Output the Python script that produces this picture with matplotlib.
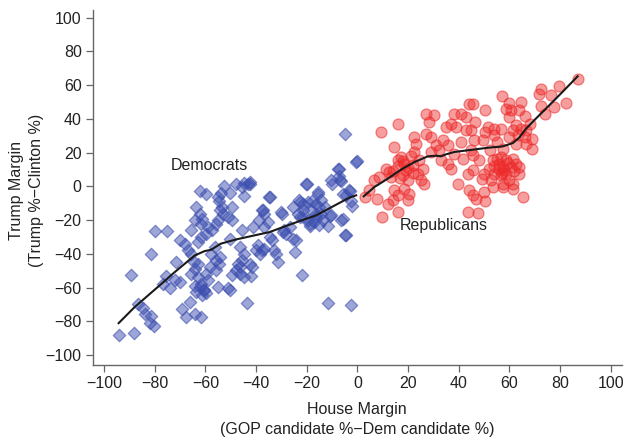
import matplotlib
matplotlib.use("Agg")
import matplotlib.pyplot as plt

# House margin (x) and Trump margin (y) by district, Democratic-held seats
dem_house = [-94.3, -88.2, -89.5, -80.1, -75.1, -81.7, -86.7, -84.7, -84.0, -81.4,
             -82.0, -80.4, -71.5, -75.5, -76.8, -74.2, -72.2, -70.2, -69.3, -67.6,
             -66.3, -64.3, -61.9, -70.2, -68.2, -66.9, -64.3, -65.6, -63.0, -61.7,
             -60.4, -64.3, -63.6, -62.3, -64.3, -65.6, -61.7, -59.7, -61.7, -63.0,
             -62.2, -59.8, -61.4, -59.1, -57.5, -55.9, -55.1, -65.7, -64.6, -63.0,
             -62.2, -60.6, -59.8, -61.4, -63.8, -59.1, -59.8, -58.3, -57.8, -55.1,
             -54.6, -54.0, -53.5, -53.0, -54.3, -56.2, -55.9, -54.6, -54.3, -55.1,
             -55.9, -52.8, -50.4, -51.2, -49.6, -49.6, -50.4, -50.4, -51.2, -49.6,
             -48.0, -47.2, -46.5, -45.7, -46.5, -44.9, -48.0, -45.7, -44.6, -43.3,
             -42.5, -44.9, -45.7, -46.5, -44.6, -43.6, -42.0, -41.7, -42.5, -40.2,
             -39.4, -38.6, -37.8, -37.0, -37.8, -37.0, -37.0, -35.4, -34.6, -33.9,
             -33.1, -32.3, -31.5, -29.9, -29.1, -28.3, -24.4, -24.7, -22.0, -23.6,
             -22.8, -21.3, -20.0, -19.7, -18.9, -22.8, -21.3, -18.1, -16.5, -15.7,
             -15.0, -14.2, -13.4, -16.5, -17.3, -12.6, -11.8, -11.0, -10.2, -11.8,
             -7.1, -7.4, -6.3, -6.3, -5.5, -4.7, -4.7, -3.1, -2.4, -2.4,
             -0.3, -0.6, -2.0, -7.8, -10.4, -6.8, -20.2, -15.6, -3.4, -4.5,
             -35.0, -22.9, -19.6, -14.3, -25.5, -30.1, -10.4, -5.8, -18.3, -16.3,
             -21.6, -18.9, -15.0, -26.8, -29.5, -4.5, -25.5, -37.4, -38.7, -41.2,
             -34.7, -42.6]
dem_trump = [-88.4, -87.0, -52.8, -26.5, -26.5, -39.9, -70.0, -72.0, -75.5, -76.6,
             -81.1, -83.0, -44.9, -53.4, -57.8, -60.1, -55.8, -56.8, -72.6, -77.6,
             -68.7, -75.5, -77.6, -32.0, -34.0, -38.0, -48.8, -51.8, -53.8, -57.7,
             -61.7, -58.8, -12.3, -16.2, -20.2, -26.1, -22.2, -28.1, -30.1, -33.1,
             -2.6, -4.5, -19.3, -24.2, -26.1, -22.2, -20.2, -39.9, -44.8, -45.8,
             -59.5, -61.5, -63.5, -64.4, -62.5, -55.6, -51.7, -47.7, -39.9, -6.5,
             -8.4, -4.1, -12.4, -16.3, -14.3, -36.0, -43.8, -45.8, -41.8, -59.5,
             -49.7, 0.4, -4.1, -18.3, -12.4, -20.2, -31.0, -61.5, -60.5, -52.7,
             -49.7, -45.8, -47.7, -43.8, -51.7, -53.6, 1.4, -0.6, 1.8, 1.4,
             1.4, -5.5, -26.1, -36.0, -39.9, -69.4, -53.2, -47.7, -45.8, -37.9,
             -35.0, -39.9, -37.9, -36.9, -14.3, -16.3, -24.2, -21.2, -6.5, -32.0,
             -37.9, -39.9, -44.8, -16.3, -26.1, -28.1, -32.0, -38.9, -52.7, -16.3,
             -18.3, -14.3, 1.4, -20.2, -23.2, -9.4, -10.4, -8.4, -10.4, -4.5,
             -12.4, -16.3, -20.2, -18.3, -21.2, -12.4, -23.2, -17.3, 1.4, -69.4,
             10.2, 6.3, 3.3, -20.2, -4.5, 30.8, -29.1, -2.6, -8.4, -70.3,
             15.1, 14.5, -11.4, 10.5, 3.6, 4.0, 1.2, -3.4, -2.4, -5.3,
             -6.3, -8.3, -9.3, -8.3, -12.3, -15.3, -17.2, -19.2, -14.2, -16.2,
             -18.2, -22.1, -23.1, -24.2, -27.1, -29.1, -31.0, -14.2, -20.2, -24.2,
             -30.1, 2.6]

# Republican-held seats
rep_house = [2.9, 4.7, 6.7, 8.7, 7.8, 9.9, 9.3, 15.9, 14.6, 11.3,
             12.6, 13.3, 15.9, 17.2, 18.5, 19.2, 17.9, 19.9, 18.5, 20.5,
             15.9, 14.6, 13.9, 12.0, 15.9, 19.9, 22.5, 23.2, 22.5, 21.8,
             24.5, 25.8, 25.1, 26.4, 23.8, 27.1, 30.4, 28.4, 27.1, 29.1,
             31.0, 29.1, 32.3, 37.0, 39.6, 44.2, 43.6, 38.3, 40.9, 42.9,
             44.2, 34.9, 37.0, 38.9, 42.9, 40.9, 33.7, 35.6, 38.3, 33.0,
             35.6, 41.6, 45.6, 45.6, 43.6,
             87.3, 79.5, 72.5, 71.8, 76.4, 82.3, 77.7, 72.5, 74.2, 57.3,
             64.6, 60.0, 60.7, 58.7, 63.9, 45.8, 50.5, 46.5, 44.9, 59.8,
             66.3, 68.2, 62.6, 64.6, 66.6, 61.4, 63.3, 60.0, 66.3, 68.8,
             56.6, 54.0, 51.5, 53.8, 50.5, 49.8, 55.1, 66.6, 68.8, 62.6,
             57.4, 52.5, 44.9, 46.2, 48.1, 53.4, 56.6, 58.7, 61.4, 62.6,
             60.7, 57.4, 55.8, 54.0, 56.6, 58.7, 63.9, 63.9, 52.1, 50.1,
             49.4, 52.7, 57.4, 61.4, 53.4, 57.4, 61.4, 65.3, 50.1, 46.8,
             45.5, 50.5, 47.8,
             56.0, 58.0, 59.5, 55.0, 57.0, 60.0, 54.0, 62.0, 16.0, 18.0,
             20.0, 22.0, 17.0, 21.0, 14.0]
rep_trump = [-6.3, -2.4, 3.6, 5.5, -7.3, -18.2, 32.2, 37.2, 23.3, 10.5,
             8.5, 5.5, 15.4, 17.4, 13.5, 9.5, 6.5, 3.6, -1.4, -4.3,
             -5.3, -2.4, -8.3, -10.3, -15.3, -8.3, 29.3, 25.3, 20.4, 12.5,
             15.4, 10.5, 3.6, 1.6, 7.5, 43.1, 42.1, 38.2, 31.3, 29.3,
             24.3, 20.4, 21.4, 10.5, 1.6, -2.4, -15.3, 43.1, 43.1, 41.1,
             49.1, 35.2, 37.2, 35.2, 33.2, 26.3, 27.3, 24.3, 19.4, 15.4,
             13.5, 16.4, 18.4, 9.5, 7.5,
             63.9, 59.3, 58.0, 55.0, 54.0, 49.4, 47.1, 47.5, 42.7, 53.4,
             50.0, 49.4, 45.1, 46.1, 45.1, 49.1, 45.1, 38.2, 33.2, 41.1,
             41.5, 37.2, 36.2, 34.2, 33.2, 33.2, 30.3, 29.3, 29.3, 28.3,
             34.2, 34.2, 35.2, 30.3, 32.2, 27.3, 26.3, 25.3, 22.4, 25.3,
             22.4, 21.4, 21.4, 27.3, 15.4, 15.4, 17.4, 15.4, 16.4, 13.5,
             11.5, 11.5, 10.5, 7.5, 6.5, 7.5, 7.5, 11.5, 10.5, 7.5,
             4.6, 3.6, 1.6, 1.6, -0.4, -0.4, -1.4, -6.3, -3.4, -7.3,
             -5.3, -8.7, -15.8,
             13.0, 10.0, 14.0, 16.0, 8.0, 4.0, 12.0, 9.0, 12.0, 15.0,
             11.0, 8.0, 5.0, 18.0, 9.0]

# smoothed fit within each party
dem_fit_x = [-94.3, -88.0, -82.7, -77.4, -72.2, -68.2, -64.3, -60.4, -57.8, -54.0,
             -48.0, -42.6, -34.7, -29.5, -22.9, -16.3, -9.7, -3.2, -0.5]
dem_fit_y = [-81.1, -71.6, -64.7, -57.8, -50.9, -45.9, -41.0, -38.4, -37.6, -34.0,
             -31.5, -29.7, -27.1, -24.2, -20.6, -17.2, -11.9, -6.7, -5.3]
rep_fit_x = [2.5, 6.7, 12.0, 17.2, 22.5, 27.8, 31.0, 33.0, 35.0, 38.3,
             43.6, 52.1, 57.4, 61.4, 63.9, 66.6, 70.5, 75.8, 81.0, 87.0]
rep_fit_y = [-5.9, -0.4, 4.6, 9.9, 14.4, 17.8, 18.2, 17.8, 19.0, 20.4,
             21.4, 23.0, 23.7, 25.7, 28.9, 34.2, 40.2, 48.1, 56.0, 65.3]

xticks = list(range(-100, 101, 20))
yticks = list(range(-100, 101, 20))

plt.rcParams["font.family"] = ["Liberation Sans", "DejaVu Sans"]

fig = plt.figure(figsize=(6.27, 4.41), dpi=100)
ax = fig.add_axes([0.148, 0.172, 0.844, 0.805])

blue = (0.24, 0.31, 0.69)
red = (0.93, 0.16, 0.16)
ax.scatter(dem_house, dem_trump, marker="D", s=40,
           facecolor=blue + (0.5,), edgecolor=blue + (0.6,), linewidths=0.9, zorder=2)
ax.scatter(rep_house, rep_trump, marker="o", s=62,
           facecolor=red + (0.45,), edgecolor=red + (0.55,), linewidths=0.9, zorder=2)

ax.plot(dem_fit_x, dem_fit_y, color="#1a1a1a", lw=1.5, zorder=3)
ax.plot(rep_fit_x, rep_fit_y, color="#1a1a1a", lw=1.5, zorder=3)

ax.text(-58.3, 12.2, "Democrats", ha="center", va="center", fontsize=11.5, color="#222222")
ax.text(34.2, -23.4, "Republicans", ha="center", va="center", fontsize=11.5, color="#222222")

ax.set_xlim(-104.5, 104.5)
ax.set_ylim(-106, 104.5)
ax.set_xticks(xticks)
ax.set_yticks(yticks)
for s in ["top", "right"]:
    ax.spines[s].set_visible(False)
for s in ["left", "bottom"]:
    ax.spines[s].set_color("#666666")
    ax.spines[s].set_linewidth(1.0)
ax.tick_params(direction="out", length=5, width=0.9, color="#666666",
               labelsize=11.5, labelcolor="#222222", pad=3)

fig.text(0.569, 0.072, "House Margin", ha="center", va="center", fontsize=11.5, color="#222222")
fig.text(0.569, 0.025, "(GOP candidate %\u2212Dem candidate %)", ha="center", va="center",
         fontsize=11.5, color="#222222")
fig.text(0.027, 0.569, "Trump Margin", ha="center", va="center", rotation=90,
         fontsize=11.5, color="#222222")
fig.text(0.058, 0.569, "(Trump %\u2212Clinton %)", ha="center", va="center", rotation=90,
         fontsize=11.5, color="#222222")

fig.savefig("out.png", dpi=100)
